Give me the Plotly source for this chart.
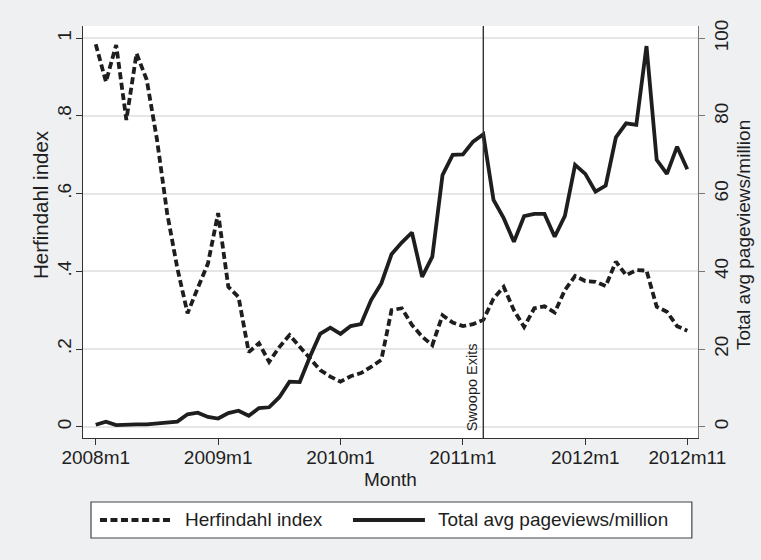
import plotly.graph_objects as go

# Monthly series, 2008m1 .. 2012m11
months = [f"{y}m{m}" for y in range(2008, 2013) for m in range(1, 13)][:59]

herfindahl = [
    0.985, 0.888, 0.983, 0.790, 0.961, 0.893, 0.740, 0.550, 0.408, 0.292,
    0.357, 0.420, 0.550, 0.360, 0.334, 0.192, 0.215, 0.167, 0.205, 0.236,
    0.206, 0.177, 0.146, 0.129, 0.116, 0.130, 0.138, 0.154, 0.172, 0.300,
    0.305, 0.262, 0.232, 0.210, 0.287, 0.268, 0.259, 0.264, 0.275, 0.330,
    0.360, 0.300, 0.257, 0.305, 0.310, 0.294, 0.352, 0.388, 0.375, 0.373,
    0.362, 0.425, 0.390, 0.403, 0.402, 0.309, 0.296, 0.259, 0.247,
]

pageviews = [
    0.5, 1.3, 0.4, 0.6, 0.6, 0.6, 0.8, 1.0, 1.3, 3.2,
    3.6, 2.5, 2.1, 3.5, 4.1, 2.8, 4.8, 5.0, 7.6, 11.6,
    11.5, 18.0, 23.9, 25.5, 23.9, 25.9, 26.4, 32.6, 36.9, 44.4,
    47.4, 50.0, 38.6, 43.8, 64.8, 70.0, 70.1, 73.4, 75.3, 58.4,
    53.7, 47.6, 54.2, 54.8, 54.8, 48.9, 54.3, 67.4, 65.1, 60.5,
    62.1, 74.5, 78.1, 77.7, 98.0, 68.7, 65.1, 72.1, 66.3,
]

series_names = ["Herfindahl index", "Total avg pageviews/million"]
tick_months = ["2008m1", "2009m1", "2010m1", "2011m1", "2012m1", "2012m11"]
left_ticks = [0, 0.2, 0.4, 0.6, 0.8, 1]
left_tick_text = ["0", ".2", ".4", ".6", ".8", "1"]
right_ticks = [0, 20, 40, 60, 80, 100]
event_month = "2011m3"
event_label = "Swoopo Exits"

x = list(range(len(months)))
tick_pos = [months.index(m) for m in tick_months]
event_x = months.index(event_month)

FONT = "Liberation Sans, Arial, Helvetica, sans-serif"
INK = "#1e1e1e"
BG = "#eff0f2"
DASH = "7px,3.5px"
LW = 3.8

fig = go.Figure()
fig.add_trace(go.Scatter(
    x=x, y=herfindahl, name=series_names[0], mode="lines",
    line=dict(color=INK, width=LW, dash=DASH), yaxis="y",
))
fig.add_trace(go.Scatter(
    x=x, y=pageviews, name=series_names[1], mode="lines",
    line=dict(color=INK, width=LW), yaxis="y2",
))

# event marker
fig.add_shape(type="line", xref="x", yref="paper", x0=event_x, x1=event_x,
              y0=0, y1=1, line=dict(color="#333333", width=1.4), layer="above")
fig.add_annotation(x=event_x, y=0.012, xref="x", yref="paper", text=event_label,
                   textangle=-90, showarrow=False, xanchor="right", yanchor="bottom",
                   xshift=-1, font=dict(family=FONT, size=14.5, color=INK))

# axis titles
fig.add_annotation(x=-0.0699, y=0.5655, xref="paper", yref="paper",
                   text=series_names[0], textangle=-90, showarrow=False,
                   xanchor="center", yanchor="middle",
                   font=dict(family=FONT, size=20.5, color=INK))
fig.add_annotation(x=1.0732, y=0.4927, xref="paper", yref="paper",
                   text=series_names[1], textangle=-90, showarrow=False,
                   xanchor="center", yanchor="middle",
                   font=dict(family=FONT, size=19, color=INK))
fig.add_annotation(x=0.5, y=-0.1010, xref="paper", yref="paper", text="Month",
                   showarrow=False, xanchor="center", yanchor="middle",
                   font=dict(family=FONT, size=19, color=INK))

# legend box drawn in paper coordinates
fig.add_shape(type="rect", xref="paper", yref="paper", x0=0.013, x1=0.990,
              y0=-0.2427, y1=-0.1553, line=dict(color="#444444", width=1.2),
              fillcolor="white", layer="below")
fig.add_shape(type="line", xref="paper", yref="paper", x0=0.0276, x1=0.1431,
              y0=-0.199, y1=-0.199, line=dict(color=INK, width=LW, dash=DASH))
fig.add_shape(type="line", xref="paper", yref="paper", x0=0.439, x1=0.556,
              y0=-0.199, y1=-0.199, line=dict(color=INK, width=LW))
fig.add_annotation(x=0.1659, y=-0.199, xref="paper", yref="paper",
                   text=series_names[0], showarrow=False, xanchor="left",
                   yanchor="middle", xshift=-2,
                   font=dict(family=FONT, size=19, color=INK))
fig.add_annotation(x=0.5772, y=-0.199, xref="paper", yref="paper",
                   text=series_names[1], showarrow=False, xanchor="left",
                   yanchor="middle", xshift=-2,
                   font=dict(family=FONT, size=19, color=INK))

fig.update_layout(
    width=761, height=560,
    margin=dict(l=83, r=63, t=26, b=122),
    paper_bgcolor=BG, plot_bgcolor="white",
    showlegend=False,
    font=dict(family=FONT, size=19, color=INK),
    xaxis=dict(
        range=[-1.25, 59.05], tickmode="array", tickvals=tick_pos,
        ticktext=tick_months, ticks="outside", ticklen=6, tickwidth=1.2,
        tickcolor="#333333", showline=True, linecolor="#333333", linewidth=1.2,
        showgrid=False, zeroline=False, tickfont=dict(size=19),
        ticklabelstandoff=-4,
    ),
    yaxis=dict(
        range=[-0.0291, 1.0317], tickmode="array", tickvals=left_ticks,
        ticktext=left_tick_text, tickangle=-90, ticks="outside", ticklen=6,
        tickwidth=1.2, tickcolor="#333333", showline=True, linecolor="#333333",
        linewidth=1.2, showgrid=True, gridcolor="#e6e6e6", gridwidth=1.5,
        zeroline=False, tickfont=dict(size=19), ticklabelstandoff=-3,
    ),
    yaxis2=dict(
        range=[-2.91, 103.17], overlaying="y", side="right", tickmode="array",
        tickvals=right_ticks, tickangle=-90, ticks="outside", ticklen=6,
        tickwidth=1.2, tickcolor="#777777", showline=True, linecolor="#777777",
        linewidth=1.2, showgrid=False, zeroline=False, tickfont=dict(size=19),
    ),
)

fig.write_html("out.html")
